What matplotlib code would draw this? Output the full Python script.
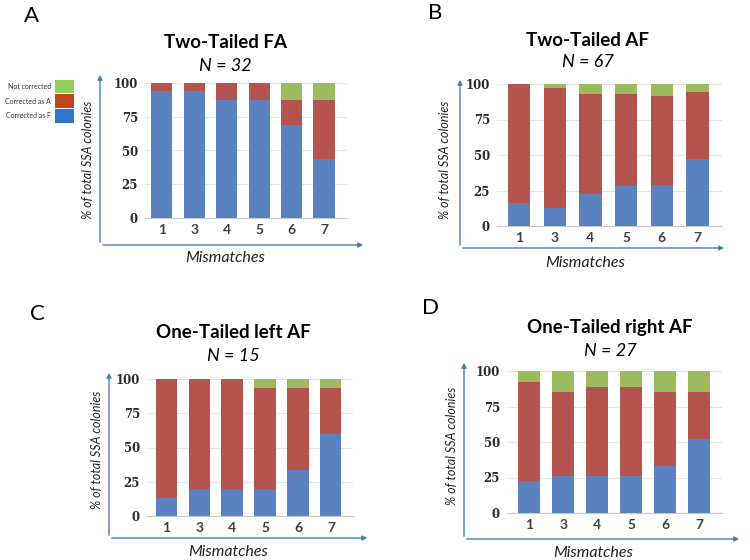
import matplotlib
matplotlib.use("Agg")
import matplotlib.pyplot as plt
from matplotlib.patches import FancyArrowPatch, Rectangle

W, H = 750, 560
mismatches = ["1", "3", "4", "5", "6", "7"]

# Panel A: Two-Tailed FA
a_F = [93.75, 93.75, 87.5, 87.5, 68.75, 43.75]
a_A = [6.25, 6.25, 12.5, 12.5, 18.75, 43.75]
a_N = [0, 0, 0, 0, 12.5, 12.5]
# Panel B: Two-Tailed AF
b_F = [16.0, 12.5, 22.6, 28.2, 29.2, 47.5]
b_A = [84.0, 84.7, 70.6, 64.5, 62.1, 46.6]
b_N = [0, 2.8, 6.8, 7.3, 8.7, 5.9]
# Panel C: One-Tailed left AF
c_F = [13.3, 20.0, 20.0, 20.0, 33.3, 60.0]
c_A = [86.7, 80.0, 80.0, 73.3, 60.0, 33.3]
c_N = [0, 0, 0, 6.7, 6.7, 6.7]
# Panel D: One-Tailed right AF
d_F = [22.2, 25.9, 25.9, 25.9, 33.3, 51.9]
d_A = [70.4, 59.3, 63.0, 63.0, 51.9, 33.3]
d_N = [7.4, 14.8, 11.1, 11.1, 14.8, 14.8]

titles = ["Two-Tailed FA", "Two-Tailed AF", "One-Tailed left AF", "One-Tailed right AF"]
ns = ["N = 32", "N = 67", "N = 15", "N = 27"]
letters = ["A", "B", "C", "D"]
yticks = [0, 25, 50, 75, 100]
legend_labels = ["Not corrected", "Corrected as A", "Corrected as F"]

C_F = "#5B81BE"
C_A = "#B5534F"
C_N = "#9CBB5E"
ARROW = "#4A78C8"

SANS = "Lato"
SERIF = "DejaVu Serif"

fig = plt.figure(figsize=(7.5, 5.6), dpi=100)

def fx(x):
    return x / W

def fy(y):
    return 1 - y / H

# layout per panel (pixel coords)
panels = [
    dict(data=(a_F, a_A, a_N), rect=(145, 83, 347, 218), xlim=(-0.52, 5.71), bw=0.65,
         arrow_x=100, arrow_top=72, arrow_y=245, arrow_right=366,
         title=(225, 43), n=(225, 66), letter=(32, 16), xlabel=(225, 258), ylabel=(88, 160)),
    dict(data=(b_F, b_A, b_N), rect=(497, 84, 722, 226), xlim=(-0.62, 5.69), bw=0.63,
         arrow_x=460, arrow_top=77, arrow_y=248, arrow_right=727,
         title=(588, 40), n=(588, 62), letter=(435, 13), xlabel=(585, 263), ylabel=(445, 160)),
    dict(data=(c_F, c_A, c_N), rect=(147, 379, 353, 516), xlim=(-0.58, 5.67), bw=0.64,
         arrow_x=109, arrow_top=370, arrow_y=538, arrow_right=370,
         title=(233, 333), n=(233, 356), letter=(37, 314), xlabel=(228, 552), ylabel=(97, 450)),
    dict(data=(d_F, d_A, d_N), rect=(507, 371, 722, 513), xlim=(-0.65, 5.68), bw=0.66,
         arrow_x=464, arrow_top=360, arrow_y=539, arrow_right=742,
         title=(610, 327), n=(610, 351), letter=(430, 308), xlabel=(593, 553), ylabel=(452, 446)),
]

for i, p in enumerate(panels):
    l, t, r, b = p["rect"]
    ax = fig.add_axes([fx(l), fy(b), (r - l) / W, (b - t) / H])
    F, A, N = p["data"]
    x = list(range(len(mismatches)))
    ax.bar(x, F, width=p["bw"], color=C_F, zorder=3)
    ax.bar(x, A, width=p["bw"], bottom=F, color=C_A, zorder=3)
    bottoms = [f + a for f, a in zip(F, A)]
    ax.bar(x, N, width=p["bw"], bottom=bottoms, color=C_N, zorder=3)
    ax.set_xlim(*p["xlim"])
    ax.set_ylim(0, 100)
    ax.set_yticks(yticks)
    ax.set_yticklabels([str(v) for v in yticks], fontfamily=SERIF, fontweight="bold",
                       fontsize=8.5, color="#2A2A2A")
    ax.set_xticks(x)
    ax.set_xticklabels(mismatches, fontfamily=SANS, fontweight="bold", fontsize=10,
                       color="#404040")
    ax.tick_params(length=0, pad=4)
    ax.tick_params(axis="y", pad=5)
    for s in ["top", "right", "left"]:
        ax.spines[s].set_visible(False)
    ax.spines["bottom"].set_color("#C8C8C8")
    ax.spines["bottom"].set_linewidth(0.8)
    ax.grid(axis="y", color="#E6E6E6", linewidth=0.8, zorder=0)
    ax.set_axisbelow(True)
    ax.patch.set_alpha(0)

    # blue arrow axes
    ax_x, ax_top, ax_y, ax_right = p["arrow_x"], p["arrow_top"], p["arrow_y"], p["arrow_right"]
    fig.add_artist(FancyArrowPatch((fx(ax_x), fy(ax_y)), (fx(ax_x), fy(ax_top)),
                                   transform=fig.transFigure, arrowstyle="-|>",
                                   mutation_scale=7, color=ARROW, linewidth=1.0))
    fig.add_artist(FancyArrowPatch((fx(ax_x), fy(ax_y)), (fx(ax_right), fy(ax_y)),
                                   transform=fig.transFigure, arrowstyle="-|>",
                                   mutation_scale=7, color=ARROW, linewidth=1.0))

    fig.text(fx(p["title"][0]), fy(p["title"][1]), titles[i], ha="center", va="center",
             fontfamily=SANS, fontweight="bold", fontsize=13.5, color="black")
    fig.text(fx(p["n"][0]), fy(p["n"][1]), ns[i], ha="center", va="center",
             fontfamily=SANS, fontstyle="italic", fontsize=13, color="black")
    fig.text(fx(p["letter"][0]), fy(p["letter"][1]), letters[i], ha="center", va="center",
             fontfamily=SANS, fontsize=16, color="black")
    fig.text(fx(p["xlabel"][0]), fy(p["xlabel"][1]), "Mismatches", ha="center", va="center",
             fontfamily=SANS, fontstyle="italic", fontsize=11.5, color="#222222")
    fig.text(fx(p["ylabel"][0]), fy(p["ylabel"][1]), "% of total SSA colonies", ha="center",
             va="center", rotation=90, fontfamily=SANS, fontstyle="italic", fontsize=9,
             color="#222222")

# legend in panel A
leg_colors = ["#92CF5A", "#C2441F", "#2F74C8"]
rows = [(80, 93), (94, 108), (109, 123)]
for lab, col, (t, b) in zip(legend_labels, leg_colors, rows):
    fig.add_artist(Rectangle((fx(55), fy(b)), 19 / W, (b - t) / H, transform=fig.transFigure,
                             facecolor=col, edgecolor="none"))
    fig.text(fx(51), fy((t + b) / 2), lab, ha="right", va="center", fontfamily=SANS,
             fontsize=5, color="#333333")

fig.savefig("out.png", dpi=100)
